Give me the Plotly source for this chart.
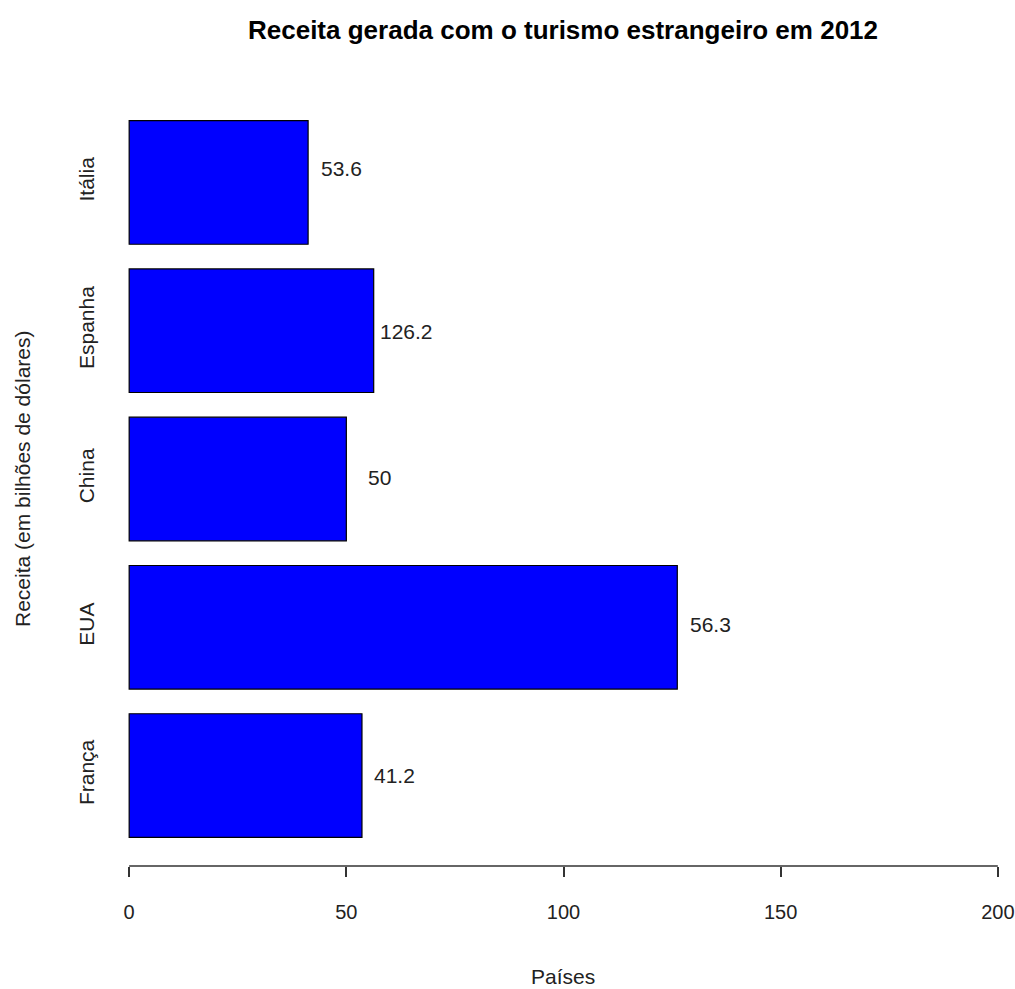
import plotly.graph_objects as go

# Tourism revenue per country (billions of dollars), bottom to top
paises = ["França", "EUA", "China", "Espanha", "Itália"]
receita = [53.6, 126.2, 50.0, 56.3, 41.2]
# value labels written next to each bar
rotulos = ["41.2", "56.3", "50", "126.2", "53.6"]
x_ticks = [0, 50, 100, 150, 200]

# barplot-style positions: width 1, space 0.2
posicoes = [0.7 + 1.2 * i for i in range(len(paises))]
label_dy = [0, 3, 2, -1, 14]

FONT = "Liberation Sans, Arial, sans-serif"
TXT = 21

fig = go.Figure()
fig.add_trace(go.Bar(
    x=receita, y=posicoes, orientation="h", width=1.0,
    marker=dict(color="#0000FF", line=dict(color="black", width=1.2)),
    hoverinfo="skip",
))

for v, yy, txt, dy in zip(receita, posicoes, rotulos, label_dy):
    fig.add_annotation(x=v + 7.6, y=yy, text=txt, showarrow=False,
                       xanchor="center", yanchor="middle", yshift=dy,
                       font=dict(family=FONT, size=TXT, color="#222222"))

# axis line spanning only the tick range
fig.add_shape(type="line", xref="x", yref="paper", x0=0, x1=200, y0=0, y1=0,
              line=dict(color="#333333", width=1.5))

fig.add_annotation(xref="paper", yref="paper", x=(22 - 127) / 873, y=0.5,
                   text="Receita (em bilhões de dólares)", textangle=-90,
                   showarrow=False, xanchor="center", yanchor="middle",
                   font=dict(family=FONT, size=TXT, color="#222222"))
fig.add_annotation(xref="paper", yref="paper", x=(563 - 127) / 873,
                   y=-(976 - 866) / 774, text="Países", showarrow=False,
                   xanchor="center", yanchor="middle",
                   font=dict(family=FONT, size=TXT, color="#222222"))

fig.update_layout(
    width=1015, height=989,
    margin=dict(l=127, r=15, t=92, b=123, autoexpand=False),
    paper_bgcolor="white", plot_bgcolor="white",
    showlegend=False,
    title=dict(text="<b>Receita gerada com o turismo estrangeiro em 2012</b>",
               x=563 / 1015, xanchor="center", y=1 - 30 / 989, yanchor="middle",
               font=dict(family=FONT, size=26, color="black")),
    xaxis=dict(range=[-0.5, 200.5], tickvals=x_ticks, automargin=False,
               ticktext=[str(t) for t in x_ticks], showgrid=False,
               zeroline=False, showline=False, ticks="outside", ticklen=10,
               tickwidth=1.5, tickcolor="#333333", ticklabelstandoff=18,
               ticklabeloverflow="allow",
               tickfont=dict(family=FONT, size=20, color="#222222")),
    yaxis=dict(range=[-0.032, 6.232], tickvals=posicoes, ticktext=paises,
               automargin=False,
               tickangle=-90, showgrid=False, zeroline=False, showline=False,
               ticks="", ticklabelstandoff=28,
               tickfont=dict(family=FONT, size=TXT, color="#222222")),
)

fig.write_html("out.html")
